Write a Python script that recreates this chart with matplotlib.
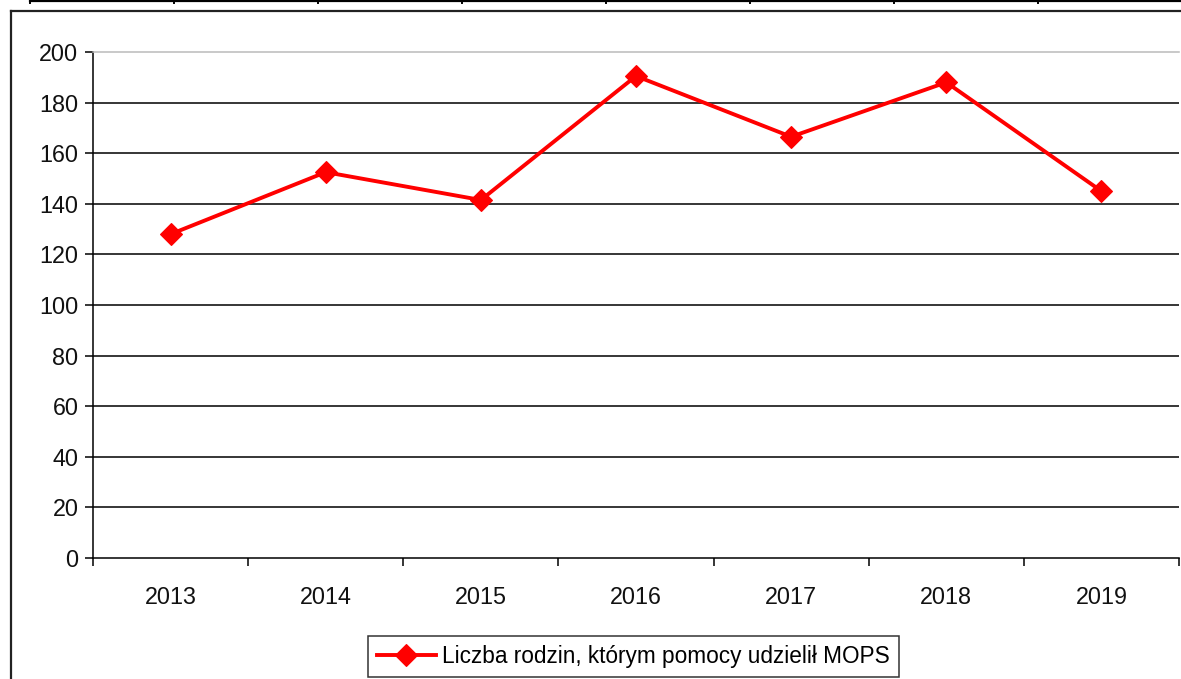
import matplotlib
matplotlib.use("Agg")
import matplotlib.pyplot as plt
from matplotlib.lines import Line2D
import numpy as np

years = ["2013", "2014", "2015", "2016", "2017", "2018", "2019"]
families = [128, 152.5, 141.5, 190.5, 166.5, 188, 145]
series_label = "Liczba rodzin, którym pomocy udzielił MOPS"
y_ticks = [0, 20, 40, 60, 80, 100, 120, 140, 160, 180, 200]

plt.rcParams['font.family'] = ['Liberation Sans', 'DejaVu Sans']

W, H = 1181, 679
fig = plt.figure(figsize=(W / 100, H / 100), dpi=100)
fig.patch.set_facecolor("white")

def fx(px):
    return px / W

def fy(py):
    return 1 - py / H

# Outer chart frame (left & top visible)
fig.add_artist(Line2D([fx(11), fx(11)], [fy(11), fy(H + 5)], transform=fig.transFigure,
                      color="#222222", lw=1.6))
fig.add_artist(Line2D([fx(11), fx(W + 5)], [fy(11), fy(11)], transform=fig.transFigure,
                      color="#222222", lw=1.6))
# Table strip at very top
fig.add_artist(Line2D([fx(30), fx(W + 5)], [fy(1), fy(1)], transform=fig.transFigure,
                      color="black", lw=1.6))
for k in range(8):
    xx = 30 + 144 * k
    fig.add_artist(Line2D([fx(xx), fx(xx)], [fy(-2), fy(3)], transform=fig.transFigure,
                          color="black", lw=1.4))

left, right, top, bottom = 93, 1179, 52, 558
ax = fig.add_axes([fx(left), fy(bottom), fx(right - left), (bottom - top) / H])
ax.set_facecolor("white")

x = np.arange(len(years))
ax.set_xlim(-0.5, len(years) - 0.5)
ax.set_ylim(0, 200)

for v in y_ticks[1:-1]:
    ax.axhline(v, color="black", lw=1.1, zorder=1)

ax.plot(x, families, color="#FF0000", lw=2.8, marker="D", markersize=11,
        markeredgewidth=0.8, markeredgecolor="#FF0000", markerfacecolor="#FF0000",
        label=series_label, zorder=3, clip_on=False)

for s in ["right"]:
    ax.spines[s].set_visible(False)
ax.spines["top"].set_color("#BBBBBB")
ax.spines["top"].set_linewidth(1.1)
ax.spines["left"].set_color("black")
ax.spines["left"].set_linewidth(1.1)
ax.spines["bottom"].set_color("black")
ax.spines["bottom"].set_linewidth(1.1)

ax.set_yticks(y_ticks)
ax.set_yticklabels([str(v) for v in y_ticks])
ax.tick_params(axis="y", direction="out", length=5.5, width=1.1, color="black",
               labelsize=16.8, pad=5, labelcolor="#111111")

ax.set_xticks(np.arange(len(years) + 1) - 0.5)
ax.set_xticklabels([])
ax.tick_params(axis="x", which="major", direction="out", length=6, width=1.1, color="black")
ax.set_xticks(x, minor=True)
ax.set_xticklabels(years, minor=True)
ax.tick_params(axis="x", which="minor", length=0, labelsize=16.8, pad=20, labelcolor="#111111")

leg = ax.legend(loc="center", bbox_to_anchor=(fx(633.5), fy(656.5)),
                bbox_transform=fig.transFigure, frameon=True, fancybox=False,
                fontsize=16.3, handlelength=2.6, handletextpad=0.3,
                borderpad=0.4, borderaxespad=0)
leg.get_frame().set_edgecolor("black")
leg.get_frame().set_linewidth(1.1)

fig.savefig("out.png", dpi=100)
